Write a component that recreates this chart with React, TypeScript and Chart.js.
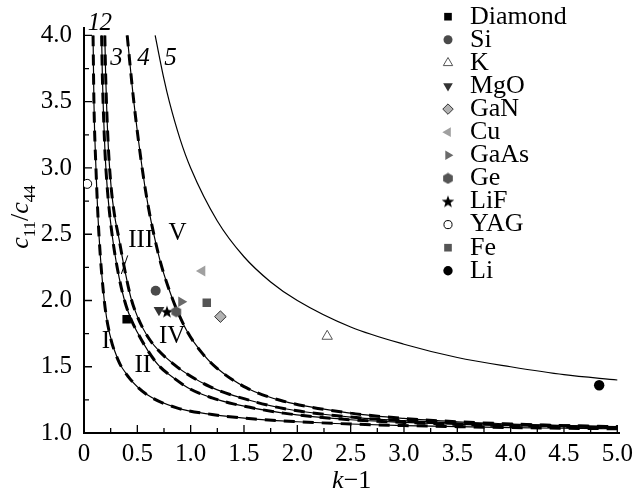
import React, { useEffect, useRef } from 'react';
import { Chart, registerables } from 'chart.js';
import { drawPoint } from 'chart.js/helpers';

Chart.register(...registerables);

const SERIF = '"Liberation Serif", "Times New Roman", serif';

// ---- axis ticks ----
const xTickValues = [0, 0.25, 0.5, 0.75, 1, 1.25, 1.5, 1.75, 2, 2.25, 2.5, 2.75, 3, 3.25, 3.5, 3.75, 4, 4.25, 4.5, 4.75, 5];
const yTickValues = [1, 1.25, 1.5, 1.75, 2, 2.25, 2.5, 2.75, 3, 3.25, 3.5, 3.75, 4];

// ---- model curves ----
const curve1X = [0.085, 0.093, 0.112, 0.14, 0.19, 0.24, 0.32, 0.42, 0.59, 0.87, 1.2, 1.6, 2.0, 2.5, 3.0, 3.5, 4.0, 4.5, 5.0];
const curve1Y = [4.0, 3.5, 3.0, 2.5, 2.0, 1.75, 1.55, 1.42, 1.29, 1.19, 1.14, 1.105, 1.085, 1.068, 1.056, 1.048, 1.041, 1.036, 1.032];

const curve2X = [0.165, 0.172, 0.183, 0.198, 0.218, 0.245, 0.28, 0.33, 0.38, 0.44, 0.5, 0.6, 0.7, 0.85, 1.0, 1.2, 1.4, 1.87, 2.5, 3.0, 3.5, 4.0, 4.5, 5.0];
const curve2Y = [4.0, 3.7, 3.4, 3.1, 2.85, 2.62, 2.4, 2.17, 2.0, 1.86, 1.76, 1.62, 1.51, 1.41, 1.33, 1.265, 1.22, 1.15, 1.1, 1.08, 1.065, 1.055, 1.047, 1.04];

const curve3X = [0.195, 0.203, 0.215, 0.232, 0.255, 0.285, 0.327, 0.37, 0.44, 0.5, 0.62, 0.84, 1.18, 1.56, 1.87, 2.5, 3.0, 3.5, 4.0, 4.5, 5.0];
const curve3Y = [4.0, 3.7, 3.4, 3.1, 2.85, 2.65, 2.47, 2.28, 2.02, 1.88, 1.7, 1.52, 1.35, 1.245, 1.185, 1.12, 1.093, 1.076, 1.064, 1.055, 1.048];

const curve4X = [0.405, 0.467, 0.545, 0.6, 0.66, 0.72, 0.79, 0.87, 0.965, 1.1, 1.245, 1.525, 1.87, 2.5, 3.0, 3.5, 4.0, 4.5, 5.0];
const curve4Y = [4.0, 3.5, 3.0, 2.72, 2.48, 2.28, 2.1, 1.93, 1.77, 1.61, 1.49, 1.34, 1.24, 1.15, 1.11, 1.085, 1.068, 1.055, 1.045];

const curve5X = [0.667, 0.75, 0.8, 0.9, 1.0, 1.25, 1.5, 1.75, 2.0, 2.5, 3.0, 3.5, 4.0, 4.5, 5.0];
const curve5Y = [4.0, 3.67, 3.5, 3.22, 3.0, 2.6, 2.33, 2.14, 2.0, 1.8, 1.67, 1.57, 1.5, 1.44, 1.4];

// ---- materials ----
const materials = ['Diamond', 'Si', 'K', 'MgO', 'GaN', 'Cu', 'GaAs', 'Ge', 'LiF', 'YAG', 'Fe', 'Li'];
const materialX = [0.4, 0.672, 2.28, 0.703, 1.279, 1.108, 0.912, 0.865, 0.778, 0.03, 1.151, 4.83];
const materialY = [1.858, 2.074, 1.73, 1.928, 1.878, 2.223, 1.99, 1.915, 1.915, 2.88, 1.983, 1.36];

// ---- labels ----
const curveLabels = ['1', '2', '3', '4', '5'];
const curveLabelX = [0.093, 0.205, 0.305, 0.558, 0.812];
const curveLabelY = [4.042, 4.042, 3.777, 3.777, 3.777];

const regionLabels = ['I', 'II', 'III', 'IV', 'V'];
const regionLabelX = [0.205, 0.551, 0.532, 0.826, 0.878];
const regionLabelY = [1.642, 1.46, 2.404, 1.679, 2.457];

const leaderX = [0.41, 0.35];
const leaderY = [2.34, 2.2];

const isMajor = (v: number) => Math.abs(v * 2 - Math.round(v * 2)) < 1e-6;

function makeHexagon(color: string) {
  const c = document.createElement('canvas');
  c.width = 12; c.height = 12;
  const g = c.getContext('2d')!;
  g.fillStyle = color;
  g.beginPath();
  for (let k = 0; k < 6; k++) {
    const a = (-90 + k * 60) * Math.PI / 180;
    const px = 6 + 5.6 * Math.cos(a);
    const py = 6 + 5.6 * Math.sin(a);
    if (k === 0) g.moveTo(px, py); else g.lineTo(px, py);
  }
  g.closePath();
  g.fill();
  return c;
}

function makeStar(color: string) {
  const c = document.createElement('canvas');
  c.width = 14; c.height = 14;
  const g = c.getContext('2d')!;
  g.fillStyle = color;
  g.beginPath();
  for (let k = 0; k < 10; k++) {
    const r = k % 2 === 0 ? 6.6 : 2.7;
    const a = (-90 + k * 36) * Math.PI / 180;
    const px = 7 + r * Math.cos(a);
    const py = 7.5 + r * Math.sin(a);
    if (k === 0) g.moveTo(px, py); else g.lineTo(px, py);
  }
  g.closePath();
  g.fill();
  return c;
}

function materialStyles() {
  return [
    { pointStyle: 'rect', rotation: 0, radius: 6, fill: '#000000', stroke: '#000000', bw: 0 },
    { pointStyle: 'circle', rotation: 0, radius: 5, fill: '#4a4a4a', stroke: '#4a4a4a', bw: 0 },
    { pointStyle: 'triangle', rotation: 0, radius: 6, fill: '#ffffff', stroke: '#555555', bw: 1 },
    { pointStyle: 'triangle', rotation: 180, radius: 6.2, fill: '#333333', stroke: '#333333', bw: 0 },
    { pointStyle: 'rectRot', rotation: 0, radius: 5.8, fill: '#b2b2b2', stroke: '#333333', bw: 1 },
    { pointStyle: 'triangle', rotation: -90, radius: 6.3, fill: '#a0a0a0', stroke: '#a0a0a0', bw: 0 },
    { pointStyle: 'triangle', rotation: 90, radius: 6, fill: '#6a6a6a', stroke: '#6a6a6a', bw: 0 },
    { pointStyle: makeHexagon('#555555'), rotation: 0, radius: 5.5, fill: '#555555', stroke: '#555555', bw: 0 },
    { pointStyle: makeStar('#000000'), rotation: 0, radius: 6, fill: '#000000', stroke: '#000000', bw: 0 },
    { pointStyle: 'circle', rotation: 0, radius: 4.5, fill: '#ffffff', stroke: '#000000', bw: 1 },
    { pointStyle: 'rect', rotation: 0, radius: 6, fill: '#555555', stroke: '#555555', bw: 0 },
    { pointStyle: 'circle', rotation: 0, radius: 5.2, fill: '#000000', stroke: '#000000', bw: 0 },
  ];
}

const toPoints = (xs: number[], ys: number[]) => xs.map((x, i) => ({ x, y: ys[i] }));

function drawText(ctx: CanvasRenderingContext2D, parts: { t: string; font: string; dy: number }[], x: number, y: number, align: 'center' | 'left') {
  let total = 0;
  const widths = parts.map(p => { ctx.font = p.font; const w = ctx.measureText(p.t).width; total += w; return w; });
  let cx = align === 'center' ? x - total / 2 : x;
  parts.forEach((p, i) => {
    ctx.font = p.font;
    ctx.fillText(p.t, cx, y + p.dy);
    cx += widths[i];
  });
}

export default function App() {
  const ref = useRef<HTMLCanvasElement | null>(null);

  useEffect(() => {
    if (!ref.current) return;
    const styles = materialStyles();

    const decor = {
      id: 'figureDecor',
      afterDraw(chart: any) {
        const { ctx, chartArea } = chart;
        const xs = chart.scales.x;
        const ys = chart.scales.y;
        ctx.save();
        // inward tick marks
        ctx.strokeStyle = '#000';
        ctx.lineWidth = 1.3;
        ctx.beginPath();
        xTickValues.forEach(v => {
          const p = xs.getPixelForValue(v);
          const len = isMajor(v) ? 8 : 5;
          ctx.moveTo(p, chartArea.bottom);
          ctx.lineTo(p, chartArea.bottom - len);
        });
        yTickValues.forEach(v => {
          const p = ys.getPixelForValue(v);
          const len = isMajor(v) ? 8 : 5;
          ctx.moveTo(chartArea.left, p);
          ctx.lineTo(chartArea.left + len, p);
        });
        ctx.stroke();

        // leader line for III
        ctx.lineWidth = 1;
        ctx.beginPath();
        ctx.moveTo(xs.getPixelForValue(leaderX[0]), ys.getPixelForValue(leaderY[0]));
        ctx.lineTo(xs.getPixelForValue(leaderX[1]), ys.getPixelForValue(leaderY[1]));
        ctx.stroke();

        ctx.fillStyle = '#000';
        ctx.textBaseline = 'alphabetic';
        ctx.textAlign = 'center';
        ctx.font = `italic 25px ${SERIF}`;
        curveLabels.forEach((t, i) => {
          ctx.fillText(t, xs.getPixelForValue(curveLabelX[i]), ys.getPixelForValue(curveLabelY[i]));
        });
        ctx.font = `25px ${SERIF}`;
        regionLabels.forEach((t, i) => {
          ctx.fillText(t, xs.getPixelForValue(regionLabelX[i]), ys.getPixelForValue(regionLabelY[i]));
        });

        // axis titles
        ctx.textAlign = 'left';
        const xMid = (chartArea.left + chartArea.right) / 2;
        drawText(ctx, [
          { t: 'k', font: `italic 26px ${SERIF}`, dy: 0 },
          { t: '\u22121', font: `26px ${SERIF}`, dy: 0 },
        ], xMid, chartArea.bottom + 55, 'center');

        ctx.save();
        ctx.translate(28, 217);
        ctx.rotate(-Math.PI / 2);
        drawText(ctx, [
          { t: 'c', font: `italic 26px ${SERIF}`, dy: 0 },
          { t: '11', font: `17px ${SERIF}`, dy: 7 },
          { t: '/', font: `26px ${SERIF}`, dy: 0 },
          { t: 'c', font: `italic 26px ${SERIF}`, dy: 0 },
          { t: '44', font: `17px ${SERIF}`, dy: 7 },
        ], 0, 0, 'center');
        ctx.restore();

        // legend
        const lx = 448, tx = 470, y0 = 16.7, step = 23.1;
        materials.forEach((name, i) => {
          const s = styles[i];
          const cy = y0 + i * step;
          ctx.fillStyle = s.fill;
          ctx.strokeStyle = s.stroke;
          ctx.lineWidth = s.bw;
          drawPoint(ctx, { pointStyle: s.pointStyle as any, rotation: s.rotation, radius: s.radius * 0.9, borderWidth: s.bw }, lx, cy);
          ctx.fillStyle = '#000';
          ctx.font = `26px ${SERIF}`;
          ctx.textAlign = 'left';
          ctx.textBaseline = 'middle';
          ctx.fillText(name, tx, cy);
        });
        ctx.restore();
      },
    };

    const thin = (xs: number[], ys: number[]) => ({
      type: 'line' as const,
      data: toPoints(xs, ys),
      borderColor: '#000',
      borderWidth: 1.2,
      pointRadius: 0,
      fill: false,
      cubicInterpolationMode: 'monotone' as const,
      order: 3,
    });
    const dashed = (xs: number[], ys: number[]) => ({
      type: 'line' as const,
      data: toPoints(xs, ys),
      borderColor: '#000',
      borderWidth: 3,
      borderDash: [11, 8],
      pointRadius: 0,
      fill: false,
      cubicInterpolationMode: 'monotone' as const,
      order: 2,
    });

    const curveSets = [[curve1X, curve1Y], [curve2X, curve2Y], [curve3X, curve3Y], [curve4X, curve4Y]];
    const datasets: any[] = [];
    curveSets.forEach(([xs, ys]) => { datasets.push(thin(xs, ys)); datasets.push(dashed(xs, ys)); });
    datasets.push(thin(curve5X, curve5Y));
    materials.forEach((name, i) => {
      const s = styles[i];
      datasets.push({
        type: 'scatter',
        label: name,
        data: [{ x: materialX[i], y: materialY[i] }],
        pointStyle: s.pointStyle,
        rotation: s.rotation,
        pointRadius: s.radius,
        backgroundColor: s.fill,
        borderColor: s.stroke,
        borderWidth: s.bw,
        showLine: false,
        order: 0,
      });
    });

    const tickFont = { family: SERIF, size: 25 };
    const chart = new Chart(ref.current, {
      type: 'scatter',
      data: { datasets },
      options: {
        responsive: false,
        animation: false,
        events: [],
        layout: { padding: { top: 27.5, right: 17.4, left: 0, bottom: 0 } },
        plugins: { legend: { display: false }, tooltip: { enabled: false } },
        scales: {
          x: {
            type: 'linear',
            min: 0,
            max: 5.02,
            afterBuildTicks: (s: any) => { s.ticks = xTickValues.map(v => ({ value: v })); },
            afterFit: (s: any) => { s.height = 63; },
            grid: { display: false, drawTicks: false },
            border: { display: true, color: '#000', width: 2 },
            ticks: {
              autoSkip: false,
              maxRotation: 0,
              minRotation: 0,
              padding: 6,
              color: '#000',
              font: tickFont,
              callback: (v: any) => (isMajor(Number(v)) ? (Number(v) === 0 ? '0' : Number(v).toFixed(1)) : ''),
            },
          },
          y: {
            type: 'linear',
            min: 1,
            max: 4.06,
            afterBuildTicks: (s: any) => { s.ticks = yTickValues.map(v => ({ value: v })); },
            afterFit: (s: any) => { s.width = 84; },
            grid: { display: false, drawTicks: false },
            border: { display: true, color: '#000', width: 2 },
            ticks: {
              autoSkip: false,
              padding: 12,
              color: '#000',
              font: tickFont,
              callback: (v: any) => (isMajor(Number(v)) ? Number(v).toFixed(1) : ''),
            },
          },
        },
      } as any,
      plugins: [decor],
    });
    return () => chart.destroy();
  }, []);

  return (
    <div style={{ position: 'fixed', left: 0, top: 0, width: 639, height: 496, background: '#fff' }}>
      <canvas ref={ref} width={639} height={496} style={{ display: 'block', width: 639, height: 496 }} />
    </div>
  );
}
